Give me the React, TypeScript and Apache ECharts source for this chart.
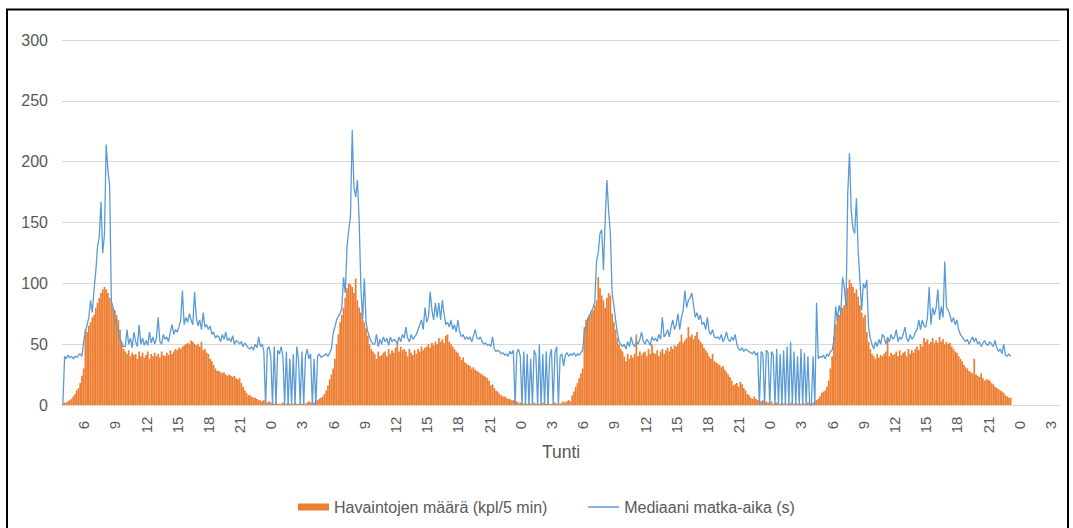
import React, { useEffect, useRef } from "react";
import * as echarts from "echarts";

// 10-minute slots, first slot 4:00 on day 1; each "day" array runs 4:00 -> 3:50 next day
const START_HOUR = 4;
const SLOT_MINUTES = 10;
const TOTAL_SLOTS = 576;

const seriesNames = ["Havaintojen määrä (kpl/5 min)", "Mediaani matka-aika (s)"];
const axisTitle = "Tunti";

// Havaintojen määrä (bars)
const countDay1 = [
  1, 2, 2, 3, 4, 5,
  7, 9, 12, 14, 18, 24,
  30, 62, 60, 65, 68, 72,
  74, 80, 84, 88, 92, 95,
  97, 95, 92, 88, 84, 80,
  78, 74, 70, 62, 52, 46,
  44, 42, 45, 40, 43, 41,
  42, 38, 44, 40, 43, 39,
  41, 44, 38, 42, 40, 43,
  40, 42, 39, 44, 41, 40,
  43, 41, 45, 42, 44, 46,
  45, 47, 46, 48, 49, 50,
  51, 50, 53, 52, 50, 49,
  50, 48, 52, 45, 46, 43,
  42, 38, 36, 33, 30, 28,
  28, 27, 26, 27, 25, 24,
  25, 24, 23, 24, 22, 21,
  22, 18, 15, 12, 10, 8,
  8, 7, 6, 6, 5, 4,
  4, 3, 4, 3, 2, 3,
  2, 2, 1, 2, 1, 1,
  1, 2, 1, 1, 2, 1,
  1, 1, 2, 1, 1, 2,
  1, 2, 1, 2, 3, 2,
];
const countDay2 = [
  2, 2, 3, 4, 5, 6,
  7, 9, 12, 16, 21, 25,
  30, 38, 50, 58, 68, 74,
  80, 88, 96, 100, 99, 97,
  92, 104, 86, 80, 76, 70,
  68, 63, 57, 50, 46, 44,
  42, 38, 44, 40, 41, 43,
  44, 40, 46, 42, 45, 43,
  47, 50, 44, 48, 45, 46,
  44, 40, 46, 43, 41, 45,
  42, 46, 44, 48, 45, 47,
  48, 50, 47, 51, 49, 52,
  50, 55, 52, 54, 51, 57,
  58, 52, 50, 48, 46, 44,
  43, 40, 37, 39, 35, 34,
  33, 32, 30, 31, 29, 28,
  27, 26, 25, 24, 23, 22,
  20, 16, 17, 14, 12, 11,
  9, 8, 7, 7, 6, 5,
  5, 4, 4, 3, 3, 2,
  2, 2, 1, 2, 1, 2,
  1, 1, 2, 1, 1, 1,
  1, 2, 1, 1, 2, 1,
  1, 1, 2, 1, 2, 1,
];
const countDay3 = [
  2, 3, 2, 3, 4, 3,
  8, 11, 15, 18, 22, 26,
  30, 64, 70, 72, 74, 76,
  78, 82, 86, 105, 96, 90,
  86, 80, 88, 92, 90, 75,
  68, 62, 55, 50, 46, 44,
  40, 36, 42, 38, 41, 39,
  42, 58, 40, 44, 41, 43,
  44, 40, 46, 42, 50, 43,
  42, 45, 40, 44, 46, 42,
  45, 47, 44, 48, 46, 49,
  48, 50, 52, 58, 51, 53,
  55, 64, 56, 58, 54, 57,
  60, 54, 52, 50, 47, 45,
  43, 40, 38, 42, 36, 35,
  34, 33, 31, 32, 29, 27,
  25, 23, 20, 16, 17, 18,
  15, 19, 17, 14, 12, 9,
  8, 6, 5, 7, 5, 4,
  4, 3, 4, 2, 3, 2,
  2, 3, 1, 2, 2, 1,
  1, 2, 1, 2, 1, 1,
  2, 1, 1, 2, 1, 1,
  1, 2, 1, 1, 2, 1,
];
const countDay4 = [
  1, 2, 3, 4, 5, 7,
  10, 11, 12, 15, 20, 30,
  40, 56, 66, 75, 74, 78,
  80, 82, 86, 96, 103, 100,
  97, 92, 95, 89, 82, 76,
  72, 74, 60, 52, 46, 42,
  40, 38, 42, 39, 41, 40,
  42, 44, 56, 40, 43, 41,
  42, 44, 40, 45, 41, 43,
  44, 40, 46, 42, 45, 43,
  46, 48, 45, 50, 48, 55,
  52, 54, 50, 52, 55, 51,
  53, 51, 56, 52, 54, 50,
  52, 50, 51, 48, 46, 44,
  43, 40, 38, 36, 33, 31,
  30, 28, 27, 26, 38, 25,
  24, 23, 26, 22, 20, 21,
  21, 20, 18, 17, 15, 14,
  13, 12, 11, 10, 8, 7,
  6, 6,
];

// Mediaani matka-aika (line)
const medianDay1 = [
  0, 40, 38, 41, 39, 40,
  38, 40, 39, 41, 42, 40,
  52, 60, 66, 72, 86, 76,
  95, 110, 130, 138, 167, 125,
  140, 214, 193, 180, 85, 80,
  72, 65, 60, 55, 50, 48,
  48, 62, 50, 55, 47, 60,
  52, 48, 66, 50, 55, 49,
  53, 49, 60, 51, 56, 50,
  55, 72, 52, 50, 58, 54,
  56, 52, 60, 66, 58, 62,
  60, 64, 70, 94, 66, 72,
  68, 75, 70, 66, 93, 72,
  65, 70, 62, 76, 64, 66,
  62, 65, 58, 60, 55, 57,
  56, 52, 58, 54, 60, 53,
  55, 52, 57, 50, 53, 52,
  50, 52, 48, 51, 49, 47,
  46, 48, 45, 50, 47, 56,
  48, 50, 44, 0, 46, 48,
  40, 0, 48, 0, 45, 42,
  48, 40, 0, 44, 0, 38,
  0, 42, 0, 48, 38, 0,
  44, 0, 40, 46, 38, 42,
];
const medianDay2 = [
  0, 38, 0, 40, 42, 39,
  40, 41, 42, 40, 43, 46,
  59, 64, 70, 73, 75, 80,
  105, 92, 130, 144, 155, 226,
  179, 171, 185, 152, 97, 70,
  104, 68, 60, 56, 52, 50,
  50, 58, 48, 54, 50, 56,
  52, 55, 49, 56, 52, 54,
  53, 50, 56, 52, 58, 55,
  64, 55, 52, 58, 54, 56,
  58, 62, 66, 70, 62, 80,
  68, 72, 93, 78, 70, 84,
  72, 84, 70, 86, 75, 66,
  68, 64, 70, 62, 66, 60,
  70, 60, 56, 58, 54, 56,
  54, 56, 52, 57, 62, 55,
  54, 56, 52, 50, 51, 49,
  50, 48, 56, 46, 44, 45,
  44, 42, 43, 41, 42, 40,
  44, 42, 45, 0, 43, 46,
  40, 0, 44, 0, 42, 0,
  38, 0, 45, 41, 0, 50,
  0, 42, 0, 44, 0, 40,
  46, 0, 43, 48, 0, 40,
];
const medianDay3 = [
  42, 32, 41, 43, 40, 42,
  41, 43, 40, 42, 41, 43,
  45, 60, 65, 70, 74, 77,
  80, 85, 118, 125, 141, 144,
  111, 152, 185, 159, 141, 92,
  82, 70, 60, 52, 50, 48,
  50, 46, 52, 48, 56, 50,
  48, 52, 50, 54, 60, 52,
  50, 54, 52, 49, 56, 53,
  55, 52, 58, 54, 72, 56,
  58, 62, 56, 64, 70, 62,
  66, 75, 62, 72, 78, 94,
  80, 86, 88, 92, 82, 72,
  76, 70, 74, 66, 68, 62,
  72, 60, 58, 62, 56, 55,
  56, 54, 58, 52, 55, 60,
  54, 52, 56, 53, 58, 50,
  46, 45, 47, 44, 46, 45,
  44, 43, 42, 44, 41, 43,
  0, 44, 42, 0, 45, 43,
  0, 44, 41, 0, 46, 0,
  42, 0, 45, 0, 48, 0,
  52, 0, 44, 0, 40, 0,
  46, 0, 43, 0, 40, 0,
];
const medianDay4 = [
  0, 40, 0, 84, 38, 40,
  39, 41, 38, 42, 40, 44,
  45, 53, 81, 70, 82, 75,
  105, 97, 81, 174, 207, 160,
  145, 141, 170, 127, 103, 78,
  100, 96, 103, 64, 55, 50,
  46, 52, 48, 54, 50, 58,
  56, 50, 55, 52, 58, 54,
  56, 62, 52, 56, 54, 58,
  64, 55, 52, 58, 54, 56,
  60, 62, 70, 62, 70, 65,
  64, 72, 97, 66, 80, 74,
  80, 95, 70, 81, 72, 118,
  80, 78, 74, 68, 72, 66,
  70, 62, 58, 56, 54, 52,
  54, 50, 53, 56, 52, 55,
  50, 52, 48, 51, 53, 50,
  49, 52, 50, 48, 53, 47,
  44, 46, 42, 50, 41, 40,
  42, 40,
];

const yTicks = { min: 0, max: 300, interval: 50 };

function buildCategories(): string[] {
  const out: string[] = [];
  for (let i = 0; i < TOTAL_SLOTS; i++) {
    const mins = START_HOUR * 60 + i * SLOT_MINUTES;
    const h = Math.floor(mins / 60) % 24;
    const m = mins % 60;
    out.push(m === 0 ? String(h) : `${h}:${String(m).padStart(2, "0")}`);
  }
  return out;
}

function pad(arr: (number | null)[]): (number | null)[] {
  const out = arr.slice();
  while (out.length < TOTAL_SLOTS) out.push(null);
  return out;
}

const FONT = "'Liberation Sans', Arial, sans-serif";
const TEXT = "#595959";
const LINE_COLOR = "#5B9BD5";
const BAR_COLOR = "#ED7D31";

export default function App() {
  const ref = useRef<HTMLDivElement>(null);

  useEffect(() => {
    if (!ref.current) return;
    const chart = echarts.init(ref.current, undefined, { renderer: "svg" });
    const categories = buildCategories();
    const counts = pad([...countDay1, ...countDay2, ...countDay3, ...countDay4]);
    const medians = pad([...medianDay1, ...medianDay2, ...medianDay3, ...medianDay4]);

    chart.setOption({
      animation: false,
      backgroundColor: "#ffffff",
      textStyle: { fontFamily: FONT },
      grid: { left: 62, right: 13, top: 40, bottom: 123, containLabel: false },
      xAxis: {
        type: "category",
        data: categories,
        boundaryGap: true,
        axisLine: { lineStyle: { color: "#D9D9D9", width: 1 } },
        axisTick: { show: false },
        axisLabel: {
          rotate: 90,
          margin: 20,
          align: "center",
          verticalAlign: "middle",
          color: TEXT,
          fontSize: 15,
          fontFamily: FONT,
          interval: (index: number, value: string) => {
            if (value.indexOf(":") >= 0) return false;
            return Number(value) % 3 === 0;
          },
        },
        splitLine: { show: false },
        name: axisTitle,
        nameLocation: "middle",
        nameGap: 38,
        nameTextStyle: { color: TEXT, fontSize: 17.5, fontFamily: FONT },
      },
      yAxis: {
        type: "value",
        min: yTicks.min,
        max: yTicks.max,
        interval: yTicks.interval,
        axisLine: { show: false },
        axisTick: { show: false },
        axisLabel: { color: TEXT, fontSize: 16, margin: 14, fontFamily: FONT },
        splitLine: { lineStyle: { color: "#D9D9D9", width: 1 } },
      },
      legend: {
        left: 293,
        top: 494,
        itemWidth: 31,
        itemHeight: 7,
        itemGap: 40,
        textStyle: { color: TEXT, fontSize: 16, fontFamily: FONT },
        data: [
          { name: seriesNames[0], icon: "rect" },
          {
            name: seriesNames[1],
            itemStyle: { opacity: 0 },
            lineStyle: { color: LINE_COLOR, width: 1.5 },
          },
        ],
      },
      series: [
        {
          name: seriesNames[0],
          type: "bar",
          data: counts,
          barCategoryGap: "0%",
          itemStyle: { color: BAR_COLOR },
        },
        {
          name: seriesNames[1],
          type: "line",
          data: medians,
          symbol: "none",
          showSymbol: false,
          connectNulls: false,
          lineStyle: { color: LINE_COLOR, width: 1.3 },
          itemStyle: { color: LINE_COLOR },
        },
      ],
      graphic: [
        {
          type: "rect",
          shape: { x: 7, y: 9.5, width: 1061, height: 560 },
          style: { fill: "none", stroke: "#000000", lineWidth: 2 },
          silent: true,
        },
      ],
    });
    return () => chart.dispose();
  }, []);

  return (
    <div
      ref={ref}
      style={{ position: "fixed", left: 0, top: 0, width: 1073, height: 528 }}
    />
  );
}
